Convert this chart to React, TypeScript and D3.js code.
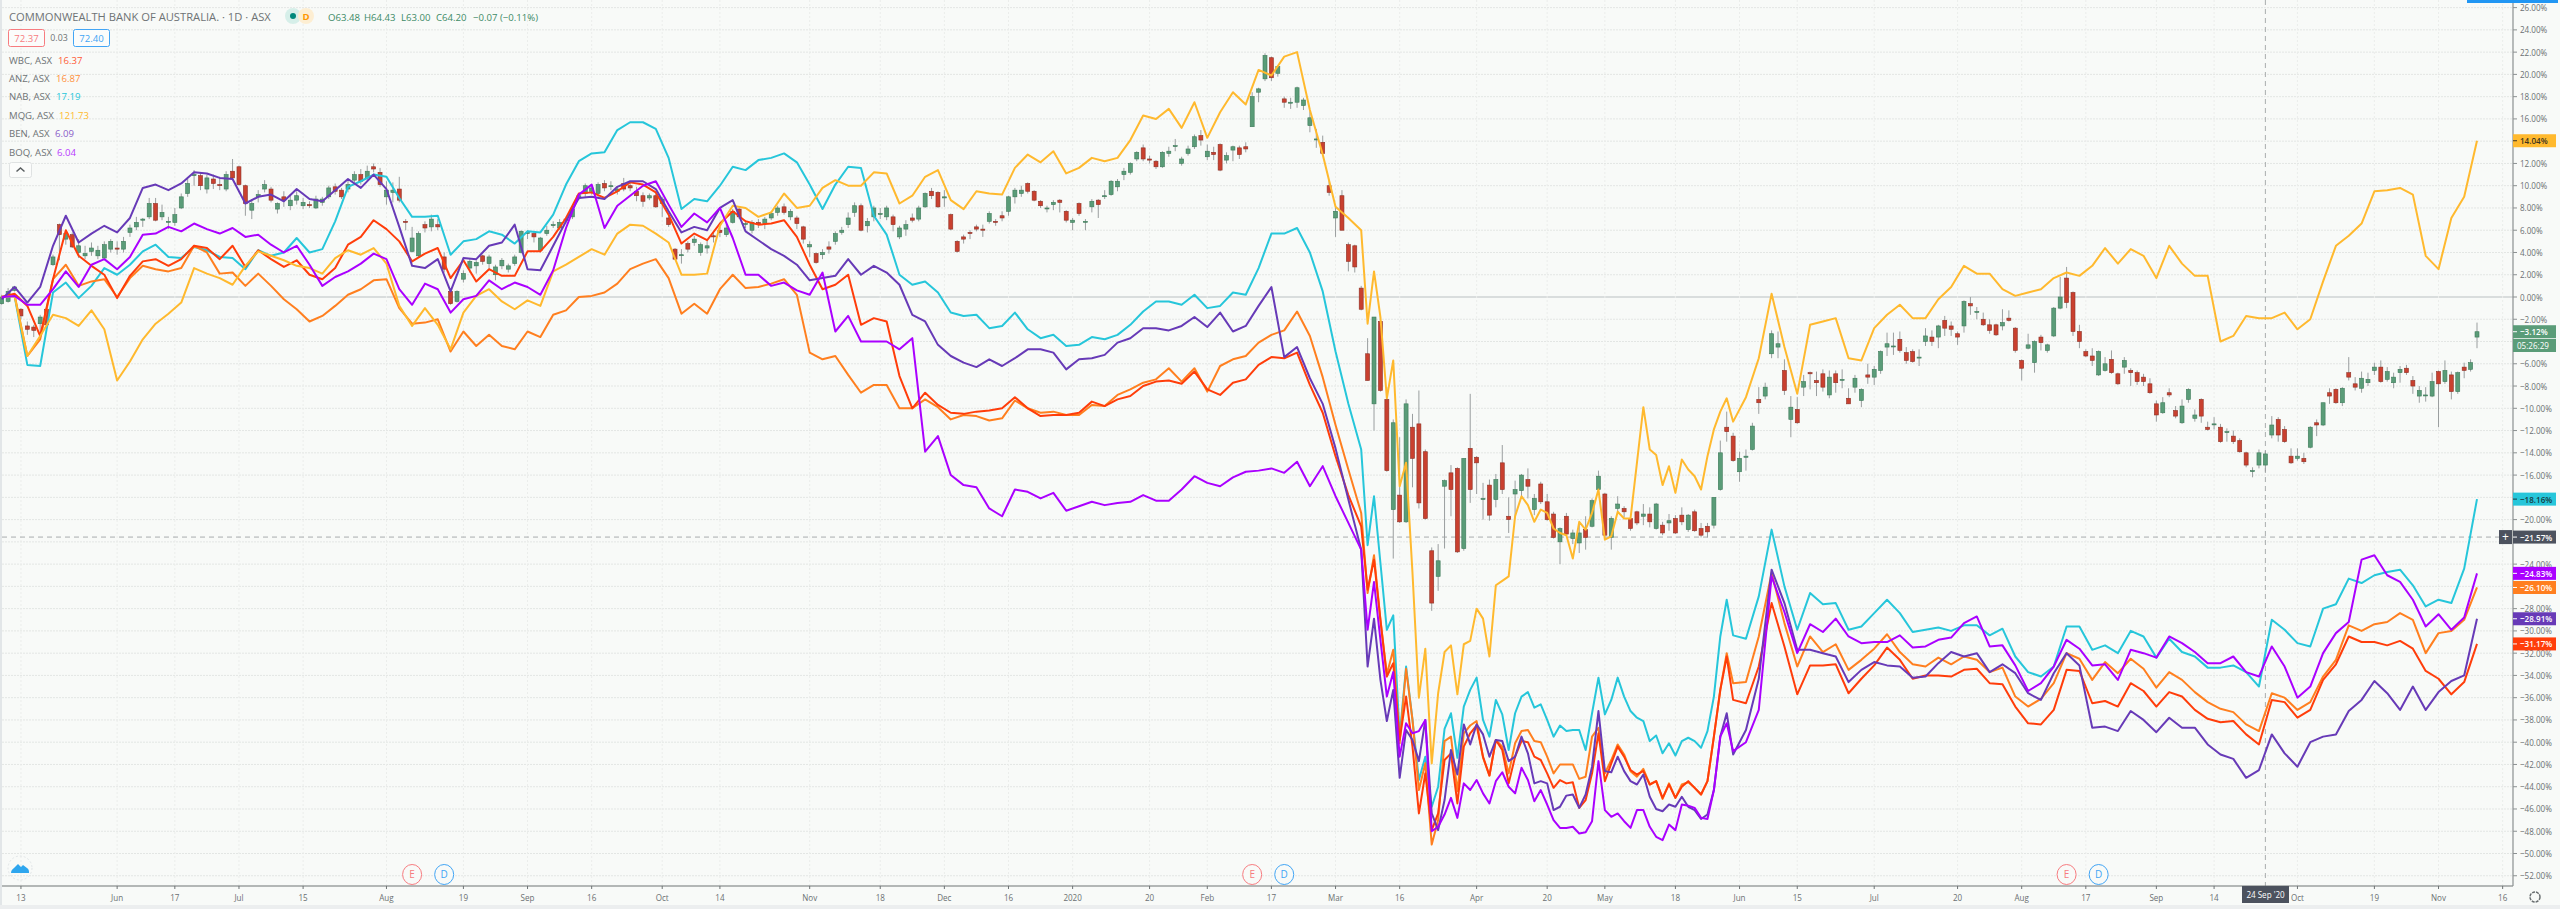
import React from "react";
import * as d3 from "d3";

const width = 2560,
  height = 909;
const axisX = 2513,
  axisY = 886;

// CBA candles, one entry per trading bar, in % from the start of the chart
const cbaOpen = [
  -.6,-.4,.6,-1.1,-2.6,-2.7,-2.4,-1.1,2.9,6.5,5.2,5.6,4,3.7,4.1,3.7,3.5,4.3,4.4,4.3,
  5.8,6.3,6.9,7.2,8.4,7.2,6.8,6.7,8,9.3,10.9,10.9,9.7,10.6,10.1,9.7,11.3,11.7,10,7.8,
  9,9.7,9.7,7.9,9,8.2,8.7,8.2,8.3,8,8.5,9,9.9,9.6,9.7,10.5,11,10.7,11.7,11.2,
  9,9.4,9.7,6.8,4.1,3.7,6.5,6.3,6.5,3.6,.5,-.4,1.6,2.6,2.8,3.7,3,2,2.8,2.5,
  3,4,5.7,5.7,4.2,5.7,6.5,6.2,7,7.2,8.9,9.3,9.5,9.3,10.2,10,9.5,10.2,10,9.5,
  9.1,8.9,9.1,8.4,7.1,4.3,3.8,4.8,4.9,4,4.4,5.5,6,5.6,6.7,7.9,6.6,6,6.7,6.6,
  7.1,7.6,8.1,7.2,7.1,6.3,4.5,3.9,3.8,4.5,5,5.8,6.5,7.6,8.2,6.4,7.2,7.5,7.2,7.2,
  5.4,6.1,7.1,7,8.1,9.5,9.4,8.9,7.4,5,5.4,5.8,6.3,6.1,6.8,6.8,7.3,7.7,9,9.3,
  10.2,9.5,8.6,8,8.3,8.7,7.7,6.7,8.4,6.8,8.1,8.7,9.1,9.2,9.9,11,11.2,12.4,13.4,12.4,
  12.2,11.7,12.9,13.6,12,12.9,13.5,14.5,12.6,13,13.7,12.3,13.2,13.4,13.5,15.3,18.4,19.6,21.5,20.1,
  17.8,17.5,17.5,17.2,15.4,14.2,13.9,10,7.1,9.1,4.7,4.6,.8,-5.1,-9.6,-2.2,-9.2,-19.1,-17.8,-20.2,
  -11.7,-11.4,-13.9,-22.8,-25.1,-17,-15.8,-15.4,-22.6,-13.6,-14.4,-18.1,-16.9,-18.2,-14.9,-19.7,-17.7,-17.4,-16.4,-19.1,
  -16.8,-18.4,-19.5,-22,-19.7,-21.7,-22.1,-20.9,-20.6,-17.3,-17.7,-21.6,-19,-19,-19.9,-19.3,-19.7,-19.5,-20.8,-20.5,
  -20.3,-19.9,-19.6,-20.9,-19.3,-20.8,-20.6,-20.5,-17.3,-11.7,-12.5,-15.7,-14.4,-13.7,-9.2,-8.9,-5.1,-4.5,-6.6,-11,
  -10.1,-8.1,-6.8,-7.5,-6.9,-8.8,-6.9,-7.4,-9.1,-8.1,-9.3,-7,-7.2,-6.6,-4.5,-4.4,-3.8,-5,-4.9,-5.4,
  -4,-3.6,-3.6,-2.1,-2.6,-3.3,-2.6,-.6,-1.3,-2,-2.5,-2.5,-2.6,-1.9,-2.8,-5.7,-4.6,-5.9,-3.6,-4.8,
  -3.5,-1,1.7,.4,-3.1,-4.9,-5.3,-7,-6.6,-5.6,-6.9,-6.3,-6.6,-6.8,-7.2,-7.8,-9.6,-10.4,-8.6,-10.2,
  -11.3,-9.2,-10.9,-9.2,-11.7,-11.4,-11.7,-12.1,-12.5,-12.9,-14,-15.6,-15.1,-15.1,-12.4,-11,-11.9,-14.3,-14.5,-14.5,
  -13.5,-11.3,-11.5,-8.6,-8.3,-9.5,-6.8,-7.8,-8.2,-7.7,-6.6,-6.3,-7.4,-7.7,-6.8,-6.4,-7.5,-8.9,-8.8,-8.9,
  -6.7,-7.6,-7,-8.5,-6.3,-6.5,-3.6,
];
const cbaClose = [
  0,.5,.9,-1.7,-2.9,-3,-1.8,-2.5,3.6,5.6,5.7,4.5,4.6,3.9,4.4,4.2,4.7,5,4.3,5,
  6.2,6.7,7,8.4,6.9,7.6,6.8,7.4,9,10.2,11,10,10.7,10.2,10,11,10.7,10.1,8.4,8.4,
  9.2,10.1,8.7,8.4,8.7,8.7,9.1,8.5,8.2,8.8,8.8,9.8,9.5,9,10.1,11,10.4,11.3,11.5,10.1,
  9.6,9.6,8.7,6.7,5.3,5.7,6.2,7,6.3,2.5,-.6,.5,2.1,3.2,3.1,3.2,3.6,2.7,3.3,2.8,
  3.6,5.9,5.8,5.4,5.3,6,6.5,6.7,6.9,7.9,9.1,10,9.8,10.1,9.8,10,9.7,9.7,9.8,9.1,
  8.6,9.1,8.1,8.8,6.5,3.4,3.8,4.3,5.2,4.7,4.6,5.4,5.8,6.2,7.7,7.2,6.6,6.7,6.5,7,
  7.5,8,7.6,7.7,6.6,5.2,4.7,3.1,4,4.3,5.7,6,7.1,8.2,6,6.8,8,7.5,8,6.5,
  6.2,6.5,6.9,8,9.3,9.1,8.1,9,6.1,4.1,5.2,5.7,6.1,6,7.5,6.7,7.1,9,9.6,9.6,
  9.5,8.7,8.2,8,8.5,8.5,6.9,6.9,7.5,6.8,8.6,8.3,9.1,10.4,10.4,11.3,12,13,12.4,12.3,
  11.7,13,13.1,13.6,12.4,13.3,14.4,14.1,13.1,12.8,11.4,12.7,13.5,12.8,13.3,18,18.7,21.7,19.7,20.7,
  17.5,17.5,18.8,17.7,16.1,14.2,12.9,9.4,7.7,6,3.2,2.7,-1.1,-7.5,-1.8,-8.4,-15.6,-11.3,-20.2,-9.6,
  -14.5,-18.5,-19.9,-27.5,-23.7,-16.5,-17.3,-22.9,-14.5,-17.3,-14.9,-18.1,-19.6,-16.4,-17.3,-20,-17.3,-16,-17,-18.1,
  -18.4,-20,-21.6,-20.8,-21.3,-21.2,-21.2,-21.6,-18.3,-16.1,-21.4,-19.9,-18.6,-19.3,-20.8,-20.3,-19.5,-20.2,-18.6,-21.2,
  -20.1,-21.2,-20.2,-19.6,-21,-21.4,-21.1,-18,-14,-12.1,-14.7,-14.5,-14.3,-11.6,-9.5,-8.1,-3.3,-4.2,-8.4,-9.9,
  -11.3,-7.6,-6.9,-7.7,-8.1,-7.2,-7.7,-7.4,-9.6,-7.3,-8.3,-7.2,-6.5,-4.9,-4.2,-4.4,-4.8,-5.7,-5.8,-5.4,
  -3.5,-4,-2.6,-2.8,-2.9,-3.6,-.4,-.8,-1.3,-2.5,-3,-3.4,-2.3,-2.1,-4.8,-6.4,-4.3,-4,-4.1,-4.3,
  -1,0,-.5,-3.1,-4,-5.3,-5.7,-4.9,-6,-6.8,-7.8,-5.7,-6.8,-7.6,-7.6,-8.6,-10.6,-9.5,-8.8,-10.7,
  -9.8,-8.3,-10.6,-10.7,-11.9,-11.4,-13,-12.1,-13,-13.9,-15.1,-15.6,-14,-14.1,-11.5,-12.4,-13,-14.9,-14.3,-14.8,
  -11.7,-11.5,-9.5,-8.9,-9.5,-8.2,-7.2,-8.1,-7.3,-7.4,-6.3,-7.6,-6.7,-7.2,-6.5,-6.8,-8,-8.4,-8.8,-7.6,
  -7.8,-6.6,-8.5,-6.8,-6.6,-5.9,-3.12,
];
const cbaHigh = [
  .2,.8,1,-1,-2.2,-2.5,-1.6,-.9,3.8,6.6,6,5.8,5.2,4.6,4.9,4.6,5,5.2,5,5.4,
  6.5,7.2,7.1,8.9,8.9,8.3,7.2,8,9.3,10.6,11.4,11.2,11,11,10.8,11.3,12.4,11.8,10.1,8.8,
  9.6,10.5,9.9,8.5,9.5,9.2,9.5,8.9,8.6,9.1,9,10,10.2,9.8,10.5,11.3,11.5,11.8,12,11.6,
  10.4,10.3,10.8,7,6.3,5.9,6.8,7.4,7,4,.6,.6,2.4,3.4,3.3,3.8,3.8,2.9,3.5,3,
  3.8,6,6,5.9,5.4,6.4,6.8,7,7.2,8.2,9.2,10.2,10,10.3,10.5,10.4,9.9,10.7,10.3,9.9,
  9.4,9.3,9.3,9,7.3,4.4,4.3,5,5.5,4.9,5.1,5.8,6.3,6.6,7.9,8,6.9,6.9,7,7.2,
  7.7,8.2,8.4,7.9,7.3,6.4,5,4,4.3,5,5.9,6.3,7.6,8.5,8.4,7.1,8.2,8,8.2,7.4,
  6.4,6.9,7.5,8.2,9.4,9.8,9.5,9.6,7.5,5.1,5.6,6,6.5,6.5,7.7,7,7.7,9.1,9.8,10,
  10.3,9.6,8.7,8.2,8.7,8.8,7.8,7.1,8.5,7,8.8,8.8,9.6,10.5,10.6,11.6,12.1,13.1,13.7,12.7,
  12.3,13.1,13.5,14.2,12.6,13.6,14.6,15,13.7,13.5,13.8,13,13.6,13.6,13.9,18.4,18.8,21.9,21.6,20.8,
  18,17.9,18.9,17.9,16.7,15.1,14.5,10.5,8.1,9.6,4.9,4.7,1,-3.7,-1.8,-1.6,-8.1,-11,-12.6,-9.2,
  -10.5,-8.4,-13.7,-22.5,-22.2,-16.4,-15.1,-15.3,-14.5,-8.7,-14.3,-16.7,-16.4,-15.9,-13.3,-18,-16.5,-15.9,-15.4,-17.7,
  -16.6,-17.7,-19.3,-20.7,-19.4,-20.9,-20.3,-19.7,-18.1,-15.6,-17.6,-19.7,-17.9,-18.8,-19.8,-19.2,-18.6,-18.9,-18.5,-20.2,
  -19.5,-19.6,-18.9,-19.5,-19.1,-20.3,-20.3,-18,-12.9,-10.3,-12.2,-13.9,-13.7,-11.3,-8.1,-7.7,-3,-3.1,-5.6,-8.9,
  -9,-7,-6.7,-6.7,-6.5,-6.6,-6.6,-6.5,-8.2,-7,-8.2,-6,-6.2,-4.8,-3.2,-3.2,-3.1,-4.5,-4.7,-4.7,
  -2.8,-3,-2.5,-1.7,-2.2,-3.1,-.3,0,-.9,-1.4,-2,-2.4,-1.1,-1.2,-2.7,-5.6,-3.3,-3.9,-3.4,-4.2,
  -.9,1.8,2.7,.5,-2.5,-4.7,-4.6,-4.8,-5.4,-4.8,-6.8,-5.4,-6.4,-6.6,-6.9,-7.3,-9.3,-9,-8.2,-9.8,
  -9.2,-8.2,-10.1,-9.1,-11.2,-10.8,-11.4,-11.8,-12,-12.7,-13.9,-15.3,-13.7,-13.8,-10.7,-10.8,-11.6,-13.6,-13.6,-14,
  -11.6,-11,-9.5,-8.2,-8.2,-8.1,-5.4,-7.2,-6.7,-6.8,-5.9,-5.7,-6.3,-6.8,-6.2,-6.1,-7.1,-8,-8.1,-6.8,
  -6.6,-5.7,-6.7,-6.7,-5.9,-5.6,-2.3,
];
const cbaLow = [
  -.7,-.5,.5,-2,-3.4,-3.6,-3.2,-2.6,2.8,3.3,4.7,4.4,3.5,3.4,3.7,3.4,3.4,4,3.8,4,
  5.4,6,6.3,7,6.8,6.9,6.1,6.4,7.9,9,10,9.6,9.3,9.7,9.6,9.5,10.5,10,7.3,7,
  8.5,9.4,8.5,7.5,8.1,7.8,8.3,7.9,8,7.9,8.2,8.8,9.2,8.8,9.4,10.3,10.1,10.4,11.2,9.9,
  8.3,8.5,8.5,6,4,3.6,5.8,5.9,6,2.2,-.7,-.5,1.3,2.2,2.1,2.9,2.4,1.5,2.5,2.2,
  2.8,3.9,5.2,4.9,4,5.5,6.2,6,6.6,7,8.7,9,9.2,9,9.5,9.6,9.2,9.5,9.5,8.6,
  8.1,8.7,8,7.2,6.3,3.4,3,4,4.6,3.7,3.9,4.9,5.4,5.4,6.6,7,6.2,5.7,6.2,6.1,
  6.9,7.3,7.4,6.9,6.1,4.8,3.6,3,3.4,3.9,4.7,5.6,6.2,7.2,5.9,5.8,6.8,7,6.9,5.9,
  5.2,5.5,6.7,6.8,8,8.8,8,8.1,6,4,4.8,5.2,5.9,5.4,6.6,6.4,6.8,7.3,8.4,9,
  9.3,8.6,8,7.6,7.8,7.6,6.7,6,7.3,6,7.6,7.1,8.8,9.1,9.5,10.5,11,12.2,12.2,12,
  11.5,11.6,12.6,13.1,11.8,12.7,13.3,13.6,12.3,12.3,11.3,12,12.2,12.4,13,15.3,17.5,19.4,19.4,19.8,
  17,16.9,17,16.8,14.8,13.4,12.8,9.1,5.4,6,2.3,2.2,-1.2,-7.5,-12,-8.5,-15.7,-23.5,-20.3,-20.3,
  -17.1,-19,-20,-28.2,-26.4,-22.6,-19.7,-23,-22.8,-18.5,-17.7,-20,-20.1,-18.9,-17.7,-21.2,-19.9,-18,-18.1,-19.6,
  -18.6,-20.1,-21.7,-24,-21.5,-22.2,-23,-22.7,-20.7,-17.5,-21.5,-22.7,-19.4,-19.8,-21,-20.5,-20.5,-20.7,-20.9,-21.4,
  -21,-21.3,-20.5,-21.1,-21.1,-21.6,-21.6,-20.8,-17.4,-13,-14.8,-16.6,-15.6,-13.8,-10.5,-9.2,-5.5,-5.5,-8.8,-12.6,
  -11.4,-8.9,-8.3,-8.9,-8.5,-9.1,-8.6,-8.2,-9.6,-8.6,-9.9,-7.8,-7.9,-6.9,-5.3,-5.2,-5,-6,-5.9,-6.2,
  -4.4,-4.4,-4.6,-3.5,-3.5,-4.3,-3.2,-1.6,-2,-2.6,-3.3,-3.5,-3,-2.2,-5,-7.5,-4.7,-6.8,-4.8,-5,
  -3.6,-1.1,-1,-3.5,-4.6,-5.4,-6.2,-7.1,-6.7,-6.9,-7.9,-6.9,-8,-7.9,-8,-8.7,-11.2,-10.5,-9,-10.9,
  -11.4,-9.5,-11.2,-11.3,-12,-11.9,-13.1,-13,-13.2,-14,-15.3,-16.2,-15.4,-15.7,-12.7,-13,-13.1,-15,-14.7,-15,
  -13.6,-12.5,-11.6,-9.6,-9.6,-9.8,-7.5,-8.4,-8.6,-8,-7,-7.7,-7.6,-8.2,-7.7,-7,-8.7,-9.5,-9.4,-9,
  -11.7,-7.8,-9.2,-8.7,-7.3,-6.7,-4.6,
];

// comparison lines: every second bar, except every bar through the March-May 2020 crash
const lineBars = [...d3.range(0, 213, 2), ...d3.range(213, 270), ...d3.range(270, 387, 2)];
const wbc = [
  0,.3,-.8,-3.5,1.6,6,3.7,2.8,2,-.1,1.9,3.2,3.4,2.8,3.4,4.6,4.4,3.4,4.6,2.7,
  4.2,3.4,2.7,3.3,2,1.6,2.6,4.7,5.4,6.9,6.1,5,3.2,3.9,4.4,1.7,3.3,1.4,2.5,1.9,
  1.9,4.1,4.1,5.4,7.1,9.3,9.4,8.9,9.5,10.3,10.1,9.4,7.4,4.8,5.7,5.1,6.6,7.7,6.8,6.5,
  6.6,6.9,5.4,2.9,.7,1.1,2,-2.5,-1.9,-2.2,-7.1,-10,-8.6,-9.7,-10.4,-10.5,-10.3,-10.2,-10,-9,
  -10,-10.7,-10.6,-10.6,-10.4,-9.4,-9.8,-9.2,-8.9,-8,-7.6,-7.5,-7.8,-6.7,-8.3,-8.8,-7.7,-7.4,-6.1,-5.4,
  -5.5,-5,-7.9,-10.4,-14.3,-17.8,-20.6,
  -26.3,-23.6,-29,-34.1,-32.9,-39.8,-35.9,-40.4,-46.4,-42.8,-47.9,-46.4,-41.6,-41,-45.5,-40.4,-39.2,-38.5,-41.3,-43,
  -39.8,-40.7,-43.7,-41.3,-39.9,-40,-41.3,-41.6,-42.8,-44.1,-43.4,-43.7,-43.6,-45.9,-45.2,-42.8,-39.2,-43.5,-41.9,-40.4,
  -41.3,-42.5,-42.9,-42.6,-43.8,-43.5,-45,-43.8,-45,-44,-43.5,-44.1,-44.7,-43.5,-39.5,-35.3,-32.3,
  -36.2,-36.5,-33.2,-27.5,-31.4,
  -35.7,-33.1,-33.1,-33,-35.6,-34.3,-33.1,-31.5,-32.6,-34.3,-34,-34,-34.1,-33.5,-33.4,-34.7,-34.8,-36.8,-38.3,-38.4,
  -37.1,-33.5,-33.6,-36.5,-36.3,-36.8,-34.7,-35.4,-36.8,-35.5,-35.9,-37.1,-37.9,-38.2,-38.1,-39.3,-40.2,-36.2,-36.4,-37.8,
  -37.1,-34.4,-33,-30.5,-31,-31,-31.3,-30.9,-31.6,-33.6,-34.3,-35.7,-34.6,-31.17,
];
const anz = [
  0,.2,-5.3,-3.8,1.6,2.9,1,1.4,1.6,0,1.7,2.8,2.5,2.3,2.6,4.6,4,2.1,2.2,1,
  2.1,1,-.2,-1.1,-2.2,-1.7,-.8,.2,.7,1.5,1.6,-1,-2.4,-2.3,-2,-4.9,-3.1,-4.4,-3.4,-4.4,
  -4.7,-3.1,-3.6,-1.6,-1.2,0,.1,.4,1.2,2.5,3,3.4,1.7,-1.5,-.6,-1.5,.7,2,.8,.9,
  1.2,1.6,.2,-5,-5.6,-5.3,-7,-8.6,-7.9,-7.9,-10,-10,-9.2,-9.9,-11,-10.6,-10.7,-11.1,-10.9,-9.3,
  -10,-10.4,-10.3,-10.6,-10.6,-9.7,-9.8,-8.8,-8.3,-7.7,-7.4,-6.4,-7.6,-6.4,-8.5,-6.2,-5.6,-5.3,-4.1,-3.4,
  -3,-1.3,-3.5,-7.2,-11.5,-15.5,-19.4,
  -26.6,-23.2,-29,-33.9,-31.7,-40.1,-33.4,-38,-44.3,-41.9,-49.2,-47,-39.9,-39.5,-44.4,-39.2,-38.5,-38.1,-41.4,-43,
  -39.8,-40.4,-42.8,-40.1,-39,-38.9,-39.9,-40,-41.3,-42.8,-42,-42,-42,-43.3,-43.1,-39.5,-38.7,-42.8,-41.6,-40.2,
  -41.1,-42.6,-43.1,-42.4,-43.8,-43.5,-45.1,-43.7,-45,-43.8,-43.6,-44.1,-44.7,-43.5,-39.5,-35.3,-32,
  -34.7,-34.6,-30.5,-24.8,-29.3,
  -33.2,-30.5,-31.9,-31.2,-33.5,-32.6,-31.6,-30.3,-31.9,-33,-33.2,-32.4,-33,-32.3,-32.6,-33.7,-33.3,-35.9,-36.8,-36.1,
  -34.7,-32,-32.5,-34.4,-32.8,-33.8,-32.5,-33.4,-35.1,-33.7,-34.4,-35.5,-36.4,-37,-37.3,-38.4,-39,-35.6,-36,-37.1,
  -36.4,-34.1,-32.6,-29.5,-30,-29.4,-29.2,-28.4,-29,-32,-30.2,-30,-29,-26.1,
];
const nab = [
  0,.1,-6.1,-6.2,.4,1.3,-.1,1,2.6,2,2.9,4.1,4.7,3.6,3.5,4.5,4.2,3.6,3.5,2.5,
  4.2,3.7,4,5.3,4,4.3,6.8,9.9,10.4,11,10.8,8.9,7.2,7.2,7.3,3.8,5,5.2,5.9,5.6,
  4.8,5.9,5.8,7.4,10.1,12.2,12.9,13,15,15.7,15.7,15.1,12.5,7.9,8.8,8.6,10,11.7,11.4,12.3,
  12.5,12.9,12.1,10.1,7.9,10.1,11.7,11.6,7.3,5.6,2,1.1,1.4,.4,-1.4,-1.7,-1.6,-2.8,-2.6,-1.4,
  -2.9,-3.7,-3.4,-4.4,-4.3,-3.6,-3.8,-3.4,-2.5,-1.3,-.4,-.4,-.7,.2,-1,-.8,.4,.2,2.6,5.7,
  5.7,6.2,4,.5,-4.9,-9.6,-13.7,
  -22.3,-17.9,-23.9,-29.9,-28.6,-39.5,-33.2,-38,-43.4,-41.3,-45.8,-44,-38.8,-37.4,-41.4,-36.8,-35.3,-34.2,-38,-39.5,
  -36.2,-37.5,-40.7,-37.4,-35.9,-35.5,-36.9,-36.6,-38,-39.5,-38.5,-39,-38.9,-38.9,-40.7,-37.4,-34.2,-37.5,-36.2,-34.2,
  -35.9,-37.2,-37.8,-38.1,-39.9,-39.4,-41,-40.1,-41.2,-39.9,-39.6,-39.9,-40.5,-39,-35.9,-30.5,-27.2,
  -30.4,-30.7,-26.9,-20.9,-26,
  -29.9,-26.6,-27.6,-27.5,-29.9,-29.6,-28.4,-27.2,-28.4,-30.1,-29.9,-29.7,-30,-29.5,-29.5,-30.4,-29.8,-32.3,-33.7,-34.1,
  -33.2,-29.6,-29.6,-31.7,-31.3,-32,-30,-30.5,-32.4,-30.7,-31.9,-32.3,-33.3,-33.3,-33.1,-33.7,-35,-29,-29.9,-31.1,
  -31.4,-28,-27.6,-25.3,-25.7,-25,-24.7,-24.5,-25.9,-27.8,-27.2,-27.5,-24.4,-18.16,
];
const mqg = [
  0,.1,-5.3,-3.5,-1.6,-1.9,-2.6,-1.2,-2.9,-7.5,-5.8,-3.8,-2.4,-1.5,-.5,2.6,2.1,1.7,1.1,2.8,
  4.1,3.7,3.3,2.8,2.6,2.1,3.5,4.2,3.8,4.4,3,-.8,-2.6,-1,-2.5,-4.7,-1.4,.1,.7,-.4,
  -1.1,-.3,-.8,2.3,2.9,3.6,4.3,3.8,5.7,6.5,6.4,5.7,4.9,2,2,2.1,6.4,8.2,8,7.2,
  7.6,9.3,8,8.2,9.8,10.5,10,10,11.2,11.1,8.4,9.1,10.8,11.4,8.7,7.9,9.5,9.3,9.2,11.6,
  12.8,12.1,13.1,11.1,11.6,12.5,12.2,12.5,14.1,16.3,16,16.9,15.2,17.5,14.3,16.6,18.4,17.3,20.4,19.9,
  21.6,22,16.8,12.8,8.1,7.1,6,
  -2.4,2.3,-1.8,-9.1,-5.7,-17,-14.9,-24.8,-36,-31.6,-41.9,-35.6,-31.9,-31.3,-35.7,-31.2,-30.9,-28,-28.9,-32.3,
  -25.9,-25.5,-25.1,-19.7,-17.9,-18.7,-20.2,-19.1,-19.4,-20.8,-21.2,-21.4,-23.5,-20.2,-20.9,-19.4,-17.3,-21.8,-21.5,-19.3,
  -19.9,-19.9,-14.9,-9.9,-13.7,-14.2,-16.9,-15.2,-17.6,-14.6,-15.5,-16.1,-17.3,-14.3,-11.9,-10.3,-9.1,
  -11.2,-9,-5.5,.3,-4.5,
  -8.7,-2.5,-2.2,-1.9,-5.5,-5.7,-2.8,-1.6,-.7,-1.9,-1.9,-.2,.9,2.8,2.1,2.1,.7,.1,.4,.7,
  1.7,2.2,1.9,2.8,4.4,3,4.3,3.7,1.7,4.6,3,1.9,1.9,-4,-3.5,-1.7,-1.9,-1.9,-1.4,-2.9,
  -2,1.4,4.6,5.5,6.6,9.5,9.6,9.8,9.2,3.7,2.5,7.1,9,14.04,
];
const ben = [
  -.2,.9,-.5,.9,4.6,7.3,4.9,5.7,6.4,5.8,7.1,9.8,10.1,9.6,10.2,11.2,11.1,10.7,10.6,8.4,
  9,9.2,8.6,9.7,8.8,8.6,9.6,10.6,9.8,11,9.7,6.3,2.8,2.6,3.4,.5,3.5,3.4,4.6,4.9,
  6.5,2.5,2.4,4.6,6.8,8.9,9,8.8,9.9,10.4,10.4,9.7,7.7,5.8,6.3,6,8,8.7,5.9,5.1,
  4.3,3.7,2.9,1.5,1.7,1.9,3.4,2,2.8,2.2,1.1,-1.6,-2.2,-4.3,-5.3,-5.9,-6.3,-5.6,-6.2,-5.5,
  -4.7,-4.7,-5,-6.5,-5.6,-5.5,-5.2,-4.1,-3.7,-2.8,-2.8,-3,-2.6,-1.8,-2.7,-1.4,-3.1,-2.6,-.8,.9,
  -5.4,-4.5,-7.3,-9.6,-13.6,-18.2,-22.7,
  -33.2,-28.9,-34.4,-38.1,-35.3,-43.2,-38.9,-39.8,-41.7,-38,-46.4,-47.9,-45.2,-40.7,-42.9,-38.4,-40.2,-38.4,-39.3,-41.3,
  -39.8,-39.9,-41.7,-41.3,-39.5,-41,-43.7,-43.5,-43.7,-46.1,-45.8,-44.8,-44.7,-45.9,-44.7,-42.2,-37.2,-42.6,-42.7,-41.3,
  -42.6,-43.5,-43.8,-42.9,-44.9,-46,-46.2,-45.6,-45.8,-44.9,-45.8,-46.1,-46.9,-46.5,-44.3,-39.5,-37.4,
  -41.1,-38.9,-34.3,-24.5,-27.5,
  -31.7,-31.7,-32,-32.3,-34.6,-33.5,-32.8,-33.1,-33.2,-34.2,-34.1,-32.9,-31.9,-32.3,-32,-33.7,-33,-33.8,-35.6,-36.2,
  -33.8,-32,-33.1,-38.7,-38.6,-39,-37.2,-38,-39.1,-37.8,-38.7,-38.7,-40.2,-41.1,-41.5,-43.2,-42.5,-39.3,-41,-42.2,
  -40,-39.5,-39.3,-37.2,-36.2,-34.5,-35.6,-37.1,-35,-37.1,-35.5,-34.5,-34,-28.91,
];
const boq = [
  0,.1,-.7,-.7,.7,2.3,.9,2.9,3.4,2.5,3.6,5.6,5.7,6.3,5.9,6.6,6.1,5.7,6.2,5.4,
  5.6,4.7,4,4.6,2.9,1,1.8,2.3,3,3.9,3.4,.7,-.7,1.2,.7,-1.4,-.2,.1,1.5,.7,
  1.3,.9,.2,2.4,6.2,9.2,10.1,6.2,8.2,9.1,10,10.4,8.3,6.3,7.5,6.7,8,5.3,2,2,
  1,1.3,.6,.2,2.2,-3.1,-1.7,-4,-4,-4,-4.7,-3.7,-13.9,-12.5,-16,-16.9,-17.1,-19,-19.7,-17.3,
  -17.5,-18.1,-17.6,-19.2,-18.8,-18.4,-18.7,-18.5,-18.4,-17.8,-18.3,-18.3,-17.3,-16.1,-16.7,-17,-16.2,-15.7,-15.6,-15.4,
  -15.8,-14.8,-17,-15.2,-17.9,-20.3,-22.7,
  -29.9,-25.6,-30.8,-35.9,-33.7,-41.3,-38.3,-39.2,-39,-38,-48,-47.6,-46.5,-45,-46.8,-43.7,-44.3,-43.4,-44.6,-45.5,
  -43.5,-42.7,-44,-44.6,-42.3,-43.4,-45.3,-44.3,-45.6,-47,-47.7,-47.7,-47.6,-48.2,-48.1,-47.1,-41.7,-46.1,-46.7,-46.4,
  -47.1,-47.7,-46.1,-46.1,-47.6,-48.5,-48.8,-47.4,-47.9,-45.6,-45.7,-45.9,-46.8,-46.9,-44.3,-39.5,-38.3,
  -40.8,-40,-37.1,-25.1,-28.3,
  -32,-29.4,-30.1,-28.9,-30.5,-31.1,-31,-31,-30.4,-31.5,-31.4,-30.8,-30.6,-29.3,-28.7,-31.4,-31.3,-33.1,-35.4,-34.7,
  -33.2,-30.8,-31.6,-33.1,-33,-34.4,-31.7,-32,-32.4,-30.5,-31.1,-31.9,-32.9,-32.9,-32.3,-33.7,-34.1,-31.4,-33.2,-36,
  -35,-32,-30.2,-29.2,-23.6,-23.2,-25,-25.6,-27.2,-29.6,-28.5,-29.9,-28.8,-24.83,
];

const yTicks = d3.range(26, -53, -2);
// these axis labels sit behind a price box in the reference
const hiddenYLabels = [14, -4, -18, -22, -26];
const xTickLabels = ["13","Jun","17","Jul","15","Aug","19","Sep","16","Oct","14","Nov","18","Dec","16","2020","20","Feb","17","Mar","16","Apr","20","May","18","Jun","15","Jul","20","Aug","17","Sep","14","Oct","19","Nov","16"];
const xTickBars = [3,18,27,37,47,60,72,82,92,103,112,126,137,147,157,167,179,188,198,208,218,230,241,250,261,271,280,292,305,315,325,336,345,358,370,380,390];
const eventLabels = ["E","D","E","D","E","D"];
const eventBars = [64,69,195,200,322,327];

const barX = d3.scaleLinear().domain([0, 386]).range([1.7, 2477]);
const pctY = d3.scaleLinear().domain([0, 26]).range([297, 297 - 26 * 11.13]);

const uiFont = "'Open Sans', Roboto, sans-serif";
const upFill = "#5a9c78",
  upEdge = "#3d7a59",
  downFill = "#c9402f",
  downEdge = "#8e3025";

const path = d3
  .line<number>()
  .x((_, i) => barX(lineBars[i]))
  .y((d) => pctY(d));

const seriesList = [
  { name: "NAB", data: nab, color: "#26c6da", boxText: "#163a40" },
  { name: "ANZ", data: anz, color: "#ff7f1f", boxText: "#ffffff" },
  { name: "WBC", data: wbc, color: "#ff3d0a", boxText: "#ffffff" },
  { name: "MQG", data: mqg, color: "#ffb92e", boxText: "#3d3420" },
  { name: "BEN", data: ben, color: "#673ab7", boxText: "#ffffff" },
  { name: "BOQ", data: boq, color: "#aa00ff", boxText: "#ffffff" },
];

const legendRows = [
  { label: "WBC, ASX", value: "16.37", color: "#ff5a36", x: 58, y: 60 },
  { label: "ANZ, ASX", value: "16.87", color: "#ff8f3a", x: 56, y: 78 },
  { label: "NAB, ASX", value: "17.19", color: "#26c6da", x: 56, y: 96 },
  { label: "MQG, ASX", value: "121.73", color: "#ffb92e", x: 59, y: 115 },
  { label: "BEN, ASX", value: "6.09", color: "#8a5cc9", x: 55, y: 133 },
  { label: "BOQ, ASX", value: "6.04", color: "#b93bff", x: 57, y: 152 },
];
const ohlcParts = [
  { text: "O63.48", x: 328 },
  { text: "H64.43", x: 364 },
  { text: "L63.00", x: 401 },
  { text: "C64.20", x: 436 },
  { text: "\u22120.07 (\u22120.11%)", x: 473 },
];

// axis text in the reference is slightly condensed
function AxisText({ x, y, anchor, fill, bold, children }: any) {
  return (
    <text transform={`translate(${x},${y}) scale(0.85,1)`} textAnchor={anchor} fill={fill} fontFamily={uiFont} fontSize={9.5} fontWeight={bold ? 600 : 400}>
      {children}
    </text>
  );
}

const pctLabel = (v: number) => `${v < 0 ? "\u2212" : ""}${Math.abs(v).toFixed(2)}%`;

function Grid() {
  return (
    <g>
      {yTicks.map((t) => (
        <line key={t} x1={2} x2={axisX} y1={pctY(t)} y2={pctY(t)} stroke={t === 0 ? "#b9c0c1" : "#e3e6e4"} strokeWidth={t === 0 ? 1.2 : 1} strokeDasharray={t === 0 ? undefined : "2 1"} />
      ))}
      {xTickBars.map((b, i) => (
        <line key={i} x1={barX(b)} x2={barX(b)} y1={0} y2={axisY} stroke="#ebedeb" strokeWidth={1} strokeDasharray="2 2" />
      ))}
    </g>
  );
}

function Candles() {
  return (
    <g>
      {cbaOpen.map((o, i) => {
        const c = cbaClose[i];
        const up = c >= o;
        const x = barX(i);
        const top = pctY(Math.max(o, c));
        const bot = pctY(Math.min(o, c));
        return (
          <g key={i}>
            <line x1={x} x2={x} y1={pctY(cbaHigh[i])} y2={pctY(cbaLow[i])} stroke="#9a9e9f" strokeWidth={1} />
            <rect x={x - 2} y={top} width={4} height={Math.max(bot - top, 1)} fill={up ? upFill : downFill} stroke={up ? upEdge : downEdge} strokeWidth={0.6} />
          </g>
        );
      })}
    </g>
  );
}

function YAxis() {
  return (
    <g>
      <line x1={axisX} x2={axisX} y1={0} y2={height - 23} stroke="#8b9091" strokeWidth={1.2} />
      {yTicks.map((t) => (
        <g key={t}>
          <line x1={axisX} x2={axisX + 4} y1={pctY(t)} y2={pctY(t)} stroke="#8b9091" />
          {!hiddenYLabels.includes(t) && (
            <AxisText x={2520} y={pctY(t) + 3.5} fill="#6b7072">
              {pctLabel(t)}
            </AxisText>
          )}
        </g>
      ))}
    </g>
  );
}

function XAxis() {
  return (
    <g>
      <line x1={2} x2={axisX} y1={axisY} y2={axisY} stroke="#6f7475" strokeWidth={1.2} />
      {xTickBars.map((b, i) => (
        <g key={i}>
          <line x1={barX(b)} x2={barX(b)} y1={axisY} y2={axisY + 3} stroke="#6f7475" />
          <AxisText x={barX(b)} y={901} anchor="middle" fill="#6b7072">
            {xTickLabels[i]}
          </AxisText>
        </g>
      ))}
    </g>
  );
}

function PriceBox({ value, fill, color }: { value: number; fill: string; color: string }) {
  const y = pctY(value);
  return (
    <g>
      <rect x={axisX} y={y - 6.5} width={43} height={13} fill={fill} />
      <line x1={axisX} x2={axisX + 4} y1={y} y2={y} stroke={color} />
      <AxisText x={2520} y={y + 3.5} fill={color} bold>
        {pctLabel(value)}
      </AxisText>
    </g>
  );
}

function Legend() {
  return (
    <g fontFamily={uiFont} fontSize={9.6} fill="#6e7375">
      <text x={9} y={21} fontSize={11.2}>COMMONWEALTH BANK OF AUSTRALIA. · 1D · ASX</text>
      <circle cx={293} cy={16} r={8} fill="#d6efe9" />
      <circle cx={293} cy={16} r={3} fill="#00897b" />
      <circle cx={306} cy={16} r={8} fill="#fdeed2" />
      <text x={302.5} y={20} fill="#ff9800" fontWeight={700}>D</text>
      {ohlcParts.map((p) => (
        <text key={p.x} x={p.x} y={21} fontSize={9.6} fill="#3d8a66">{p.text}</text>
      ))}
      <rect x={8.5} y={29.5} width={36} height={17} rx={2} fill="#fbfcfb" stroke="#f77c80" />
      <text x={26.5} y={41.5} textAnchor="middle" fill="#f77c80">72.37</text>
      <text x={59} y={41} textAnchor="middle" fontSize={8.8}>0.03</text>
      <rect x={73.5} y={29.5} width={36} height={17} rx={2} fill="#fbfcfb" stroke="#42a5f5" />
      <text x={91.5} y={41.5} textAnchor="middle" fill="#42a5f5">72.40</text>
      {legendRows.map((r) => (
        <g key={r.label}>
          <text x={9} y={r.y + 3.5}>{r.label}</text>
          <text x={r.x} y={r.y + 3.5} fill={r.color}>{r.value}</text>
        </g>
      ))}
      <rect x={9.5} y={162.5} width={22} height={15} rx={2} fill="#fbfcfb" stroke="#dfe2e2" />
      <path d="M16.5 171.5 L20.5 168 L24.5 171.5" fill="none" stroke="#5a5f61" strokeWidth={1.5} />
    </g>
  );
}

function Events() {
  return (
    <g fontFamily={uiFont} fontSize={10}>
      {eventLabels.map((l, i) => {
        const color = l === "E" ? "#f77c80" : "#42a5f5";
        const cx = barX(eventBars[i]);
        return (
          <g key={i}>
            <ellipse cx={cx} cy={874.5} rx={9.5} ry={10} fill="#f8faf8" stroke={color} strokeWidth={1} />
            <text x={cx} y={878} fill={color} textAnchor="middle">{l}</text>
          </g>
        );
      })}
    </g>
  );
}

export default function App() {
  const crossX = barX(353);
  const crossY = pctY(-21.57);
  return (
    <svg width={width} height={height} style={{ position: "absolute", left: 0, top: 0, display: "block" }}>
      <rect width={width} height={height} fill="#f8faf8" />
      <rect x={0} width={2} height={height} fill="#e2e6e8" />
      <rect y={905} width={width} height={4} fill="#eceeef" />
      <Grid />
      <line x1={crossX} x2={crossX} y1={0} y2={axisY} stroke="#a9adae" strokeDasharray="5 4" />
      <line x1={2} x2={axisX} y1={crossY} y2={crossY} stroke="#a9adae" strokeDasharray="5 4" />
      <Candles />
      {seriesList.map((s) => (
        <path key={s.name} d={path(s.data) ?? ""} fill="none" stroke={s.color} strokeWidth={2} strokeLinejoin="round" />
      ))}
      <Events />
      <circle cx={20} cy={868} r={12} fill="none" stroke="#e2e6e8" strokeDasharray="2 2" />
      <path d="M11 873 C11 870 13 869 14 868 L18 864 L21 867 L23 865 L27 868 C29 869 29 871 29 873 Z" fill="#2ea6ee" />
      <XAxis />
      <YAxis />
      {seriesList.map((s) => (
        <PriceBox key={s.name} value={s.data[s.data.length - 1]} fill={s.color} color={s.boxText} />
      ))}
      <PriceBox value={-3.12} fill="#5a9c78" color="#ffffff" />
      <rect x={axisX} y={339} width={43} height={13} fill="#5a9c78" />
      <AxisText x={2517} y={349} fill="#ffffff">05:26:29</AxisText>
      <rect x={2499} y={crossY - 7} width={13} height={14} fill="#4c525e" />
      <text x={2505.5} y={crossY + 4} textAnchor="middle" fill="#ffffff" fontFamily={uiFont} fontSize={12}>+</text>
      <PriceBox value={-21.57} fill="#4c525e" color="#ffffff" />
      <rect x={2242} y={886} width={47} height={17} fill="#4c525e" />
      <AxisText x={2265.5} y={898} anchor="middle" fill="#ffffff">24 Sep '20</AxisText>
      <rect x={2467} y={0} width={91} height={3} fill="#2196f3" />
      <circle cx={2535} cy={897} r={5} fill="none" stroke="#6b7072" strokeWidth={1.5} strokeDasharray="3 1" />
      <Legend />
    </svg>
  );
}
